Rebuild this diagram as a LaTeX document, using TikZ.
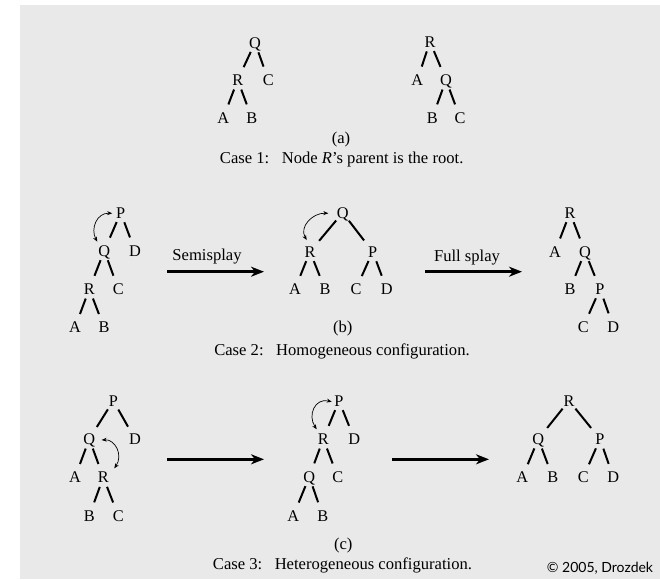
\documentclass[tikz,border=0pt]{standalone}
\usepackage{fontspec}
\setmainfont{Liberation Serif}
\newfontfamily\cpfont{Lato}
\usetikzlibrary{calc,arrows.meta}
\definecolor{bg}{RGB}{233,233,233}
\begin{document}
\begin{tikzpicture}[x=1pt,y=-1pt,
  lt/.style={circle,inner sep=0pt,minimum size=20pt,text height=10.8pt,text depth=0pt,font=\fontsize{16.3}{19}\selectfont},
  edge/.style={line width=2pt,shorten >=4pt},
  rot/.style={line width=0.7pt,{Stealth[length=5pt,width=4pt]}-{Stealth[length=5pt,width=4pt]}},
  big/.style={line width=3pt,-{Stealth[length=13pt,width=10pt,inset=4pt]}},
  captext/.style={inner sep=0pt,font=\fontsize{16.6}{19}\selectfont},
  ]
\useasboundingbox (0,0) rectangle (660,579);
\fill[bg] (20,5) rectangle (660,579);

% ---------- Case 1 ----------
\node[lt] (a1Q) at (255,42.7) {Q};
\node[lt] (a1R) at (237.7,80) {R};
\node[lt] (a1C) at (268.3,80) {C};
\node[lt] (a1A) at (223.3,117.7) {A};
\node[lt] (a1B) at (251.7,117.7) {B};
\draw[edge] (a1Q) -- (a1R);
\draw[edge] (a1Q) -- (a1C);
\draw[edge] (a1R) -- (a1A);
\draw[edge] (a1R) -- (a1B);

\node[lt] (a2R) at (430,41.7) {R};
\node[lt] (a2A) at (417.3,80) {A};
\node[lt] (a2Q) at (446,80) {Q};
\node[lt] (a2B) at (432.3,117.7) {B};
\node[lt] (a2C) at (460,117.7) {C};
\draw[edge] (a2R) -- (a2A);
\draw[edge] (a2R) -- (a2Q);
\draw[edge] (a2Q) -- (a2B);
\draw[edge] (a2Q) -- (a2C);

\node[captext] (labA) at (341,140) {(a)};
\node[captext] (capA) at (341.7,160) {Case 1:\hspace{0.75em}Node \textit{R}'s parent is the root.};

% ---------- Case 2 ----------
\node[lt] (b1P) at (120.7,212.7) {P};
\node[lt] (b1Q) at (104.3,250.7) {Q};
\node[lt] (b1D) at (135,250.7) {D};
\node[lt] (b1R) at (89.3,289) {R};
\node[lt] (b1C) at (118.3,289) {C};
\node[lt] (b1A) at (75,327.3) {A};
\node[lt] (b1B) at (104,327.3) {B};
\draw[edge] (b1P) -- (b1Q);
\draw[edge] (b1P) -- (b1D);
\draw[edge] (b1Q) -- (b1R);
\draw[edge] (b1Q) -- (b1C);
\draw[edge] (b1R) -- (b1A);
\draw[edge] (b1R) -- (b1B);
\draw[rot] ($(b1Q)+(-7,-9)$) .. controls ($(b1Q)+(-14,-22)$) and ($(b1P)+(-24,0)$) .. ($(b1P)+(-8.5,0.6)$);

\node[lt] (b2Q) at (342.7,212.7) {Q};
\node[lt] (b2R) at (310,251.7) {R};
\node[lt] (b2P) at (372.7,251.7) {P};
\node[lt] (b2A) at (295,289) {A};
\node[lt] (b2B) at (325,289) {B};
\node[lt] (b2C) at (356,289) {C};
\node[lt] (b2D) at (386.7,289) {D};
\draw[edge] (b2Q) -- (b2R);
\draw[edge] (b2Q) -- (b2P);
\draw[edge] (b2R) -- (b2A);
\draw[edge] (b2R) -- (b2B);
\draw[edge] (b2P) -- (b2C);
\draw[edge] (b2P) -- (b2D);
\draw[rot] ($(b2R)+(-3.3,-11.7)$) .. controls ($(b2R)+(-11,-25)$) and ($(b2Q)+(-30,0)$) .. ($(b2Q)+(-14.4,0.6)$);

\node[lt] (b3R) at (570,212.7) {R};
\node[lt] (b3A) at (555,251.7) {A};
\node[lt] (b3Q) at (585,251.7) {Q};
\node[lt] (b3B) at (570,289) {B};
\node[lt] (b3P) at (600,289) {P};
\node[lt] (b3C) at (583.3,326.7) {C};
\node[lt] (b3D) at (613.3,326.7) {D};
\draw[edge] (b3R) -- (b3A);
\draw[edge] (b3R) -- (b3Q);
\draw[edge] (b3Q) -- (b3B);
\draw[edge] (b3Q) -- (b3P);
\draw[edge] (b3P) -- (b3C);
\draw[edge] (b3P) -- (b3D);

\coordinate (s1a) at (167,271.7);
\coordinate (s1b) at (264,271.7);
\coordinate (s2a) at (425,271.7);
\coordinate (s2b) at (522,271.7);
\draw[big] (s1a) -- (s1b);
\draw[big] (s2a) -- (s2b);
\node[captext] (semi) at (207,256.7) {Semisplay};
\node[captext] (full) at (467,258) {Full splay};

\node[captext] (labB) at (342.7,328.3) {(b)};
\node[captext] (capB) at (342,351) {Case 2:\hspace{0.75em}Homogeneous configuration.};

% ---------- Case 3 ----------
\node[lt] (c1P) at (113.3,400.7) {P};
\node[lt] (c1Q) at (89.3,439) {Q};
\node[lt] (c1D) at (135,439) {D};
\node[lt] (c1A) at (75,477.3) {A};
\node[lt] (c1R) at (103.3,477.3) {R};
\node[lt] (c1B) at (89.3,515.7) {B};
\node[lt] (c1C) at (118.3,515.7) {C};
\draw[edge] (c1P) -- (c1Q);
\draw[edge] (c1P) -- (c1D);
\draw[edge] (c1Q) -- (c1A);
\draw[edge] (c1Q) -- (c1R);
\draw[edge] (c1R) -- (c1B);
\draw[edge] (c1R) -- (c1C);
\draw[rot] ($(c1Q)+(12.4,1)$) .. controls ($(c1Q)+(26,0)$) and ($(c1R)+(20,-22)$) .. ($(c1R)+(11,-9)$);

\node[lt] (c2P) at (339,400.7) {P};
\node[lt] (c2R) at (323.3,439) {R};
\node[lt] (c2D) at (354.3,439) {D};
\node[lt] (c2Q) at (309.3,476.7) {Q};
\node[lt] (c2C) at (337.7,476.7) {C};
\node[lt] (c2A) at (293.3,515.7) {A};
\node[lt] (c2B) at (322.7,515.7) {B};
\draw[edge] (c2P) -- (c2R);
\draw[edge] (c2P) -- (c2D);
\draw[edge] (c2R) -- (c2Q);
\draw[edge] (c2R) -- (c2C);
\draw[edge] (c2Q) -- (c2A);
\draw[edge] (c2Q) -- (c2B);
\draw[rot] ($(c2P)+(-7.3,1)$) .. controls ($(c2P)+(-24,-3)$) and ($(c2R)+(-16,-24)$) .. ($(c2R)+(-6.6,-9.7)$);

\node[lt] (c3R) at (569,400.7) {R};
\node[lt] (c3Q) at (538.3,439) {Q};
\node[lt] (c3P) at (600,439) {P};
\node[lt] (c3A) at (522.3,477.3) {A};
\node[lt] (c3B) at (552.7,477.3) {B};
\node[lt] (c3C) at (583.3,477.3) {C};
\node[lt] (c3D) at (613.3,477.3) {D};
\draw[edge] (c3R) -- (c3Q);
\draw[edge] (c3R) -- (c3P);
\draw[edge] (c3Q) -- (c3A);
\draw[edge] (c3Q) -- (c3B);
\draw[edge] (c3P) -- (c3C);
\draw[edge] (c3P) -- (c3D);

\coordinate (h1a) at (167,459.3);
\coordinate (h1b) at (264,459.3);
\coordinate (h2a) at (392,459.3);
\coordinate (h2b) at (489,459.3);
\draw[big] (h1a) -- (h1b);
\draw[big] (h2a) -- (h2b);

\node[captext] (labC) at (343.3,545) {(c)};
\node[captext] (capC) at (342.5,565) {Case 3:\hspace{0.75em}Heterogeneous configuration.};
\node[inner sep=0pt,font=\cpfont\fontsize{14}{16}\selectfont] (copy) at (600,568.3) {© 2005, Drozdek};
\end{tikzpicture}
\end{document}
